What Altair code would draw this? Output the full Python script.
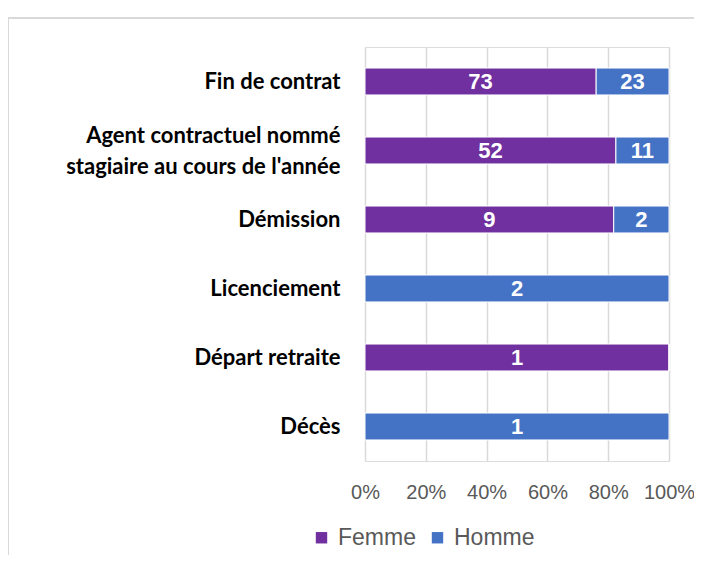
import altair as alt
import pandas as pd

categories = [
    "Fin de contrat",
    "Agent contractuel nommé stagiaire au cours de l'année",
    "Démission",
    "Licenciement",
    "Départ retraite",
    "Décès",
]
femme = [73, 52, 9, 0, 1, 0]
homme = [23, 11, 2, 2, 0, 1]
series = ["Femme", "Homme"]
colors = ["#7030A0", "#4472C4"]
x_ticks = [0, 0.2, 0.4, 0.6, 0.8, 1.0]

rows = []
for c, f, h in zip(categories, femme, homme):
    rows.append({"cat": c, "sexe": "Femme", "ord": 0, "val": f})
    rows.append({"cat": c, "sexe": "Homme", "ord": 1, "val": h})
df = pd.DataFrame(rows)

base = alt.Chart(df).transform_joinaggregate(
    total="sum(val)", groupby=["cat"]
).transform_calculate(
    pct="datum.val / datum.total"
).transform_window(
    cum="sum(pct)", groupby=["cat"], sort=[alt.SortField("ord")]
).transform_calculate(
    start="datum.cum - datum.pct", mid="datum.cum - datum.pct / 2"
)

y_enc = alt.Y(
    "cat:N",
    sort=categories,
    title=None,
    scale=alt.Scale(paddingInner=0.61, paddingOuter=0.305),
    axis=alt.Axis(
        domain=False,
        ticks=False,
        labelFont="Lato",
        labelFontWeight="bold",
        labelFontSize=22,
        labelColor="#000000",
        labelPadding=25,
        labelLimit=400,
        labelLineHeight=31,
        labelOffset={"condition": {"test": "length(datum.label) > 30", "value": -15}, "value": 0},
        labelExpr="length(datum.label) > 30 ? split(replace(datum.label, 'nommé ', 'nommé|'), '|') : datum.label",
    ),
)

bars = base.mark_bar(stroke="#ffffff", strokeWidth=1).encode(
    y=y_enc,
    x=alt.X(
        "start:Q",
        scale=alt.Scale(domain=[0, 1]),
        title=None,
        axis=alt.Axis(
            values=x_ticks,
            format=".0%",
            domain=False,
            ticks=False,
            grid=True,
            gridColor="#d9d9d9",
            gridWidth=1.5,
            labelFont="Liberation Sans",
            labelFontSize=20,
            labelColor="#595959",
            labelPadding=21,
            labelOverlap=False,
            labelBound=False,
            labelFlush=False,
        ),
    ),
    x2="cum:Q",
    color=alt.Color(
        "sexe:N",
        scale=alt.Scale(domain=series, range=colors),
        legend=alt.Legend(
            title=None,
            orient="none",
            direction="horizontal",
            legendX=-55,
            legendY=479,
            symbolType="square",
            symbolSize=130,
            symbolStrokeWidth=0,
            symbolOffset=0,
            labelFont="Liberation Sans",
            labelFontSize=23,
            labelColor="#595959",
            labelOffset=5,
            columnPadding=10,
        ),
    ),
)

labels = base.transform_filter("datum.val > 0").mark_text(
    color="white", font="Liberation Sans", fontWeight="bold", fontSize=22, baseline="middle"
).encode(
    y=alt.Y("cat:N", sort=categories),
    x=alt.X("mid:Q"),
    text=alt.Text("val:Q"),
)

border_top = alt.Chart(pd.DataFrame({"a": [0]})).mark_rule(color="#d9d9d9", strokeWidth=2).encode(
    x=alt.value(-357), x2=alt.value(400), y=alt.value(-29)
)
border_left = alt.Chart(pd.DataFrame({"a": [0]})).mark_rule(color="#d9d9d9", strokeWidth=2).encode(
    x=alt.value(-357), y=alt.value(-29), y2=alt.value(600)
)

chart = alt.layer(bars, labels, border_top, border_left).properties(
    width=304,
    height=414,
    autosize=alt.AutoSizeParams(type="none"),
    padding={"left": 357, "top": 39, "right": 25, "bottom": 94},
).configure_view(stroke=None).configure(background="white")

chart.save("out.html", embed_options={"renderer": "svg", "actions": False})
